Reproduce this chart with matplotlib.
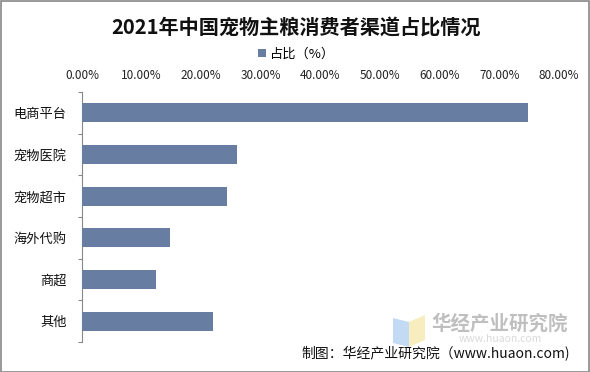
import matplotlib
matplotlib.use("Agg")
import matplotlib.pyplot as plt
from matplotlib.patches import Rectangle, Polygon
from matplotlib.ticker import FuncFormatter, MultipleLocator

plt.rcParams['font.family'] = ['Noto Sans CJK SC', 'DejaVu Sans']

title = "2021年中国宠物主粮消费者渠道占比情况"
series_name = "占比（%）"
categories = ["电商平台", "宠物医院", "宠物超市", "海外代购", "商超", "其他"]
values = [74.8, 26.0, 24.4, 14.7, 12.4, 21.9]
source_text = "制图：华经产业研究院（www.huaon.com)"

bar_color = "#687da2"
W, H = 590, 372
fig = plt.figure(figsize=(W / 100, H / 100), dpi=100)
fig.patch.set_facecolor("white")

ax = fig.add_axes([82 / W, 1 - 342 / H, (559 - 82) / W, (342 - 92) / H])
y = list(range(len(categories)))
bars = ax.barh(y, values, height=0.46, color=bar_color, label=series_name, zorder=3)
ax.set_ylim(len(categories) - 0.5, -0.5)
ax.set_xlim(0, 80)
ax.xaxis.set_major_locator(MultipleLocator(10))
ax.xaxis.set_major_formatter(FuncFormatter(lambda v, p: f"{v:.2f}%"))
ax.xaxis.tick_top()
ax.tick_params(axis="x", length=0, labelsize=8.5, pad=7, colors="#222222")
ax.set_yticks(y)
ax.set_yticklabels(categories, fontsize=9.5, color="#111111")
ax.set_yticks([i - 0.5 for i in range(len(categories) + 1)], minor=True)
ax.tick_params(axis="y", which="major", length=0, pad=11)
ax.tick_params(axis="y", which="minor", length=3, width=0.8, color="#888888", direction="out")
for s in ["top", "right", "bottom"]:
    ax.spines[s].set_visible(False)
ax.spines["left"].set_color("#888888")
ax.spines["left"].set_linewidth(0.8)

fig.text(296 / W, 1 - 28 / H, title, ha="center", va="center", fontsize=14.5,
         fontweight="bold", color="#111111")

leg = fig.legend(handles=[bars], labels=[series_name], loc="center",
                 bbox_to_anchor=(297 / W, 1 - 54 / H), frameon=False,
                 fontsize=9.5, handlelength=0.6, handleheight=0.6,
                 handletextpad=0.3, borderaxespad=0)

# watermark logo
fig.patches.append(Polygon([(393 / W, 1 - 318 / H), (409 / W, 1 - 322 / H),
                            (409 / W, 1 - 347 / H), (393 / W, 1 - 343 / H)],
                           closed=True, transform=fig.transFigure,
                           facecolor="#bcd6f2", edgecolor="none", alpha=0.9))
fig.patches.append(Polygon([(409 / W, 1 - 322 / H), (425 / W, 1 - 315 / H),
                            (425 / W, 1 - 340 / H), (409 / W, 1 - 347 / H)],
                           closed=True, transform=fig.transFigure,
                           facecolor="#f7ecb8", edgecolor="none", alpha=0.9))
fig.text(500 / W, 1 - 324 / H, "华经产业研究院", ha="center", va="center",
         fontsize=14, fontweight="bold", color="#b0b0b0", alpha=0.8)
fig.text(500 / W, 1 - 339 / H, "www.huaon.com", ha="center", va="center",
         fontsize=7.5, color="#d0d0d0", alpha=0.8)

fig.text(570 / W, 1 - 354 / H, source_text, ha="right", va="center",
         fontsize=10, color="#111111")

fig.patches.append(Rectangle((0.5 / W, 0.5 / H), 1 - 1.5 / W, 1 - 1.5 / H,
                             transform=fig.transFigure, fill=False,
                             edgecolor="#888888", linewidth=1.2))

fig.savefig("out.png", dpi=100, facecolor="white")
